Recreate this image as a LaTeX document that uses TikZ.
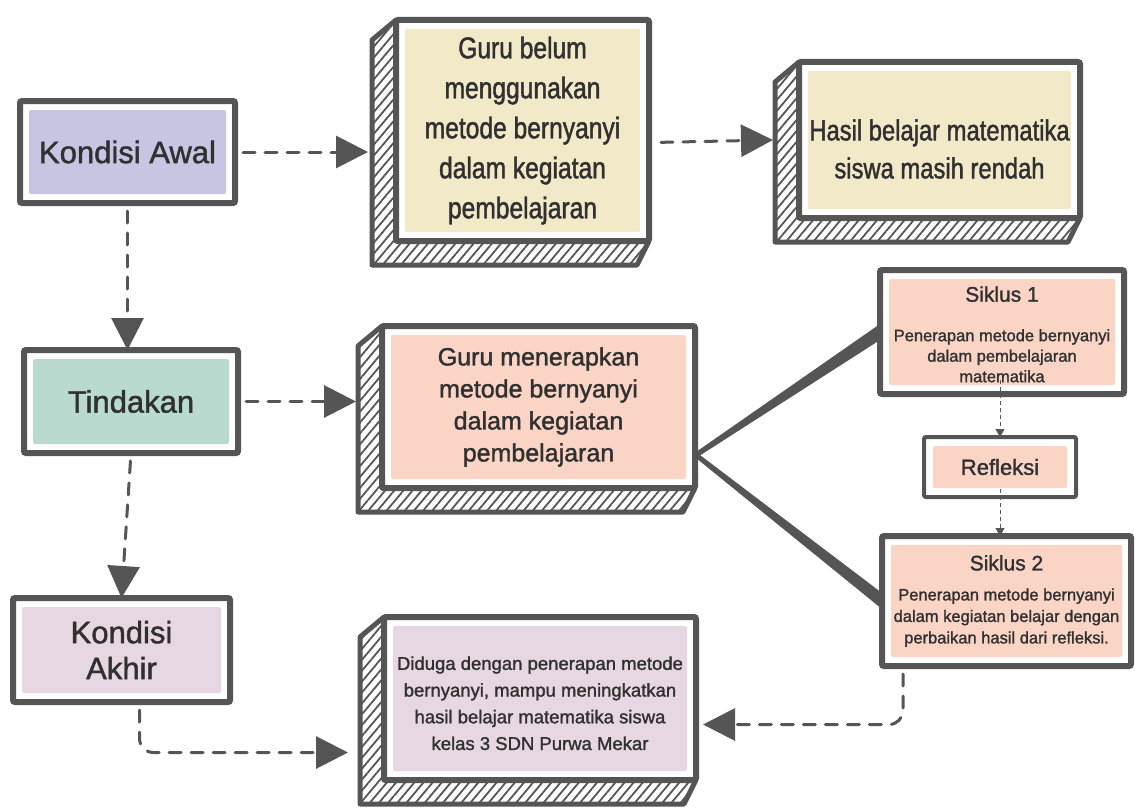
\documentclass[tikz,border=0pt]{standalone}
\usepackage{fontspec}
\setmainfont{Liberation Sans}[FakeBold=1.4]
\newfontfamily\narrowfont{Liberation Sans}[FakeStretch=0.82,FakeBold=1.4]
\usetikzlibrary{arrows.meta,calc,patterns.meta}
\definecolor{ink}{RGB}{85,85,85}
\definecolor{textgray}{RGB}{48,48,48}
\definecolor{lavender}{RGB}{200,197,226}
\definecolor{beige}{RGB}{242,233,200}
\definecolor{mint}{RGB}{184,218,207}
\definecolor{peach}{RGB}{250,213,198}
\definecolor{pinkish}{RGB}{231,215,227}

\begin{document}
\begin{tikzpicture}[x=1pt, y=-1pt,
        box/.style={draw=ink, line width=6pt, fill=white, outer sep=0pt, inner sep=0pt, text=textgray, align=center, rounded corners=2pt,
          path picture={\fill[#1] ($(path picture bounding box.south west)+(9,-9)$) rectangle ($(path picture bounding box.north east)+(-9,9)$);}},
        thinbox/.style={box=#1, line width=4pt},
        hatch/.style={pattern={Lines[angle=50,distance=7pt,line width=1.8pt]}, pattern color=ink},
        dasharrow/.style={ink, line width=3pt, line cap=round, dash pattern=on 12pt off 10pt, -{Triangle[length=32pt,width=32pt]}, shorten <=8pt},
        thinarrow/.style={ink, line width=1pt, dash pattern=on 4pt off 3pt, -{Triangle[length=8pt,width=9pt]}}]
        \useasboundingbox (0,0) rectangle (1135,808);
        % Left column
        \node[box=lavender, minimum width=215pt, minimum height=102pt, font=\fontsize{31}{36}\selectfont] (awal) at (127.5,152) {Kondisi Awal};
        \node[box=mint, minimum width=214pt, minimum height=103pt, font=\fontsize{31}{36}\selectfont] (tindakan) at (131,401.5) {Tindakan};
        \node[box=pinkish, minimum width=217pt, minimum height=104pt, font=\fontsize{31}{36}\selectfont] (akhir) at (121.5,650) {Kondisi\\Akhir};
        % Middle column
        \node[box=beige, minimum width=253pt, minimum height=221pt, font=\narrowfont\fontsize{30}{40}\selectfont] (belum) at (522.5,130.5) {Guru belum\\menggunakan\\metode bernyanyi\\dalam kegiatan\\pembelajaran};
        \node[box=peach, minimum width=313pt, minimum height=162pt, font=\fontsize{25}{32}\selectfont] (terap) at (538.5,407) {Guru menerapkan\\metode bernyanyi\\dalam kegiatan\\pembelajaran};
        \node[box=pinkish, minimum width=312pt, minimum height=163pt, font=\fontsize{18.5}{26.7}\selectfont] (diduga) at (540,698.5) {\rule{0pt}{23pt}Diduga dengan penerapan metode\\bernyanyi, mampu meningkatkan\\hasil belajar matematika siswa\\kelas 3 SDN Purwa Mekar};
        % Right column
        \node[box=beige, minimum width=281pt, minimum height=156pt, font=\narrowfont\fontsize{29}{38}\selectfont] (hasil) at (939.5,140) {\rule{0pt}{39pt}Hasil belajar matematika\\siswa masih rendah};
        \node[box=peach, minimum width=244pt, minimum height=124pt, font=\fontsize{16.5}{20.5}\selectfont] (siklus1) at (1002,332) {\rule{0pt}{20pt}{\fontsize{21}{25}\selectfont Siklus 1}\\[19pt]Penerapan metode bernyanyi\\dalam pembelajaran\\matematika};
        \node[thinbox=peach, minimum width=152pt, minimum height=60pt, font=\fontsize{22}{26}\selectfont] (refleksi) at (1000,467) {Refleksi};
        \node[box=peach, minimum width=249pt, minimum height=130pt, font=\fontsize{16.5}{21.5}\selectfont] (siklus2) at (1006.5,601) {{\fontsize{21}{25}\selectfont Siklus 2}\\[8.5pt]Penerapan metode bernyanyi\\dalam kegiatan belajar dengan\\perbaikan hasil dari refleksi.};
        % Hatched depth of the 3D boxes
        \foreach \n in {belum,hasil,terap,diduga} {
          \draw[hatch, draw=ink, line width=5pt, line join=round] (\n.north west) -- ++(-24,20) -- ($(\n.south west)+(-24,24)$) -- ($(\n.south east)+(-12,24)$) -- (\n.south east) -- (\n.south west) -- cycle;
        }
        % Dashed connectors
        \coordinate (belumside) at ($(belum.west)+(-28,0)$);
        \coordinate (terapside) at ($(terap.west)+(-26,0)$);
        \draw[dasharrow] (awal.east) -- (awal.east -| belumside);
        \draw[dasharrow] ($(belum.east)+(4,12)$) -- ($(hasil.west)+(-26,0)$);
        \draw[dasharrow] (awal.south) -- (awal.south |- tindakan.north);
        \draw[dasharrow] (tindakan.east) -- (tindakan.east -| terapside);
        \draw[dasharrow] (tindakan.south) -- (akhir.north);
        \draw[dasharrow, rounded corners=14pt] ($(akhir.south)+(18,0)$) |- ($(diduga.west)+(-36,54)$);
        \draw[dasharrow, rounded corners=14pt] ($(siklus2.south west)+(21,0)$) |- ($(diduga.east)+(7,26)$);
        \draw[thinarrow] ($(siklus1.south)+(-2,-14)$) -- (refleksi.north);
        \draw[thinarrow] ($(refleksi.south)+(0,-8)$) -- (siklus2.north -| refleksi.south);
        % Wedges to the cycles
        \coordinate (fork) at ($(terap.east)+(1,48)$);
        \fill[ink] ($(fork)+(0,-3)$) -- ($(siklus1.west)+(0,-8)$) -- ($(siklus1.west)+(0,8)$) -- ($(fork)+(0,3)$) -- cycle;
        \fill[ink] ($(fork)+(0,-3)$) -- ($(siklus2.west)+(0,-8)$) -- ($(siklus2.west)+(0,8)$) -- ($(fork)+(0,3)$) -- cycle;
\end{tikzpicture}
\end{document}
